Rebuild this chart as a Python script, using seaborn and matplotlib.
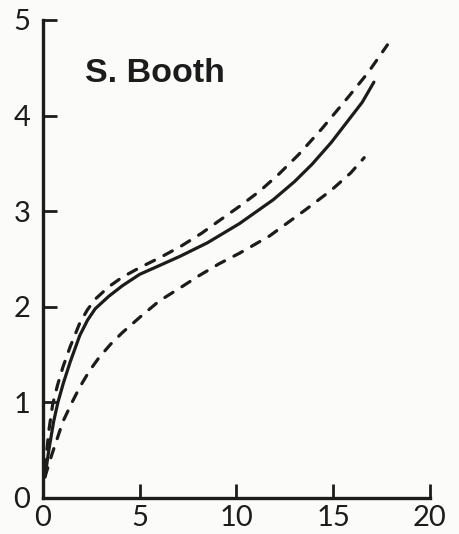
import matplotlib
matplotlib.use("Agg")
import matplotlib.pyplot as plt
import seaborn as sns
import pandas as pd

# Growth curves for S. Booth: central curve with upper and lower bounds
upper_x = [0.1, 0.3, 0.5, 0.75, 1.03, 1.4, 1.9, 2.3, 2.7, 3.4, 4.1, 5.0, 6.0, 7.1, 8.2, 9.1, 10.15, 11.2, 12.2, 13.2, 14.4, 15.8, 16.8, 17.8]
upper_y = [0.30, 0.70, 0.98, 1.18, 1.37, 1.58, 1.83, 1.97, 2.08, 2.21, 2.31, 2.41, 2.51, 2.63, 2.77, 2.90, 3.05, 3.21, 3.39, 3.59, 3.86, 4.20, 4.45, 4.74]

central_x = [0.1, 0.3, 0.55, 0.77, 1.05, 1.4, 1.9, 2.3, 2.7, 3.4, 4.1, 5.0, 6.0, 7.1, 8.5, 10.15, 11.9, 13.0, 13.9, 14.9, 15.7, 16.5, 17.1]
central_y = [0.22, 0.50, 0.80, 1.00, 1.20, 1.42, 1.70, 1.86, 1.98, 2.11, 2.22, 2.34, 2.43, 2.53, 2.67, 2.87, 3.12, 3.31, 3.49, 3.72, 3.93, 4.14, 4.35]

lower_x = [0.1, 0.45, 1.03, 1.5, 1.9, 2.4, 2.9, 3.5, 4.1, 5.0, 6.0, 7.1, 8.1, 9.1, 10.15, 11.7, 13.6, 14.9, 15.9, 16.6]
lower_y = [0.22, 0.45, 0.80, 1.00, 1.16, 1.33, 1.47, 1.61, 1.73, 1.89, 2.06, 2.20, 2.33, 2.45, 2.56, 2.74, 3.02, 3.22, 3.40, 3.56]

x_ticks = [0, 5, 10, 15, 20]
x_tick_labels = ["0", "5", "10", "15", "20"]
y_ticks = [0, 1, 2, 3, 4, 5]
y_tick_labels = ["0", "1", "2", "3", "4", "5"]
panel_title = "S. Booth"

sns.set_theme(style="white")
plt.rcParams["font.family"] = ["Lato", "DejaVu Sans"]

ink = "#1c1c1c"
paper = "#fbfbf9"

fig = plt.figure(figsize=(4.6, 5.34), dpi=100, facecolor=paper)
ax = fig.add_axes([43 / 460, 36 / 534, 387 / 460, 478 / 534])
ax.set_facecolor(paper)

dash = (0, (3.0, 3.3))
curves = [
    (upper_x, upper_y, dash),
    (central_x, central_y, "-"),
    (lower_x, lower_y, dash),
]
for xs, ys, ls in curves:
    df = pd.DataFrame({"x": xs, "y": ys})
    sns.lineplot(data=df, x="x", y="y", ax=ax, color=ink, lw=2.3,
                 linestyle=ls, sort=False, estimator=None,
                 dash_capstyle="round", solid_capstyle="round",
                 solid_joinstyle="round")

ax.set_xlim(0, 20)
ax.set_ylim(0, 5)
ax.set_xticks(x_ticks)
ax.set_xticklabels(x_tick_labels)
ax.set_yticks(y_ticks)
ax.set_yticklabels(y_tick_labels)
ax.set_xlabel("")
ax.set_ylabel("")

for side in ("top", "right"):
    ax.spines[side].set_visible(False)
for side in ("left", "bottom"):
    ax.spines[side].set_color(ink)
    ax.spines[side].set_linewidth(2.4)
    ax.spines[side].set_capstyle("projecting")

ax.tick_params(axis="both", which="major", direction="in", length=10,
               width=2.0, color=ink, labelcolor=ink, labelsize=21,
               bottom=True, left=True, top=False, right=False)
ax.tick_params(axis="y", pad=9)
ax.tick_params(axis="x", pad=5)

ax.text(2.15, 4.44, panel_title, fontsize=24.5, fontweight="bold",
        family=["Liberation Sans", "DejaVu Sans"], color=ink,
        ha="left", va="center")

fig.savefig("out.png", dpi=100, facecolor=paper)
